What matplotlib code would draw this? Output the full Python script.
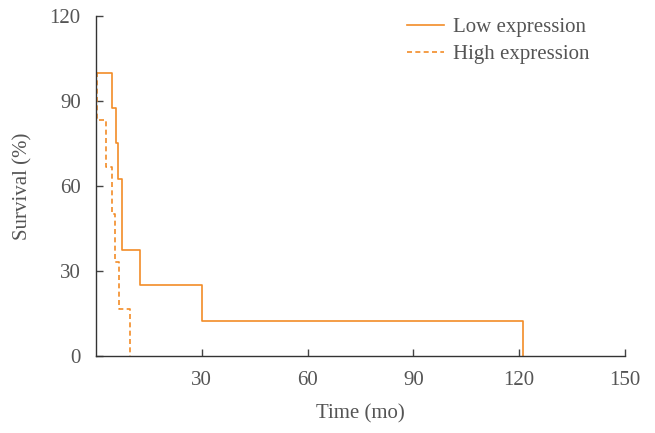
import matplotlib
matplotlib.use("Agg")
import matplotlib.pyplot as plt

# Kaplan-Meier step data (time in months, survival %)
low_time = [0, 4.5, 5.6, 6.3, 7.4, 12.5, 30, 121]
low_surv = [100, 87.5, 75, 62.5, 37.5, 25, 12.5, 0]
high_time = [0, 0.2, 2.7, 4.6, 5.3, 6.4, 9.6]
high_surv = [100, 83.3, 66.7, 50, 33.3, 16.7, 0]

x_ticks = [30, 60, 90, 120, 150]
y_ticks = [0, 30, 60, 90, 120]

plt.rcParams['font.family'] = ['Liberation Serif', 'DejaVu Serif']
color = '#F28C28'
text_color = '#555555'

fig = plt.figure(figsize=(6.55, 4.33), dpi=100)
ax = fig.add_axes([0.1466, 0.178, 0.8074, 0.785])

ax.step(low_time, low_surv, where='post', color=color, lw=1.2, label='Low expression')
ax.step(high_time, high_surv, where='post', color=color, lw=1.2, ls=(0, (3, 2)), label='High expression')

ax.set_xlim(0, 150)
ax.set_ylim(0, 120)
ax.set_xticks(x_ticks)
ax.set_yticks(y_ticks)
ax.tick_params(direction='in', length=5, width=1, colors='#444444', labelsize=15, labelcolor=text_color)
ax.tick_params(axis='x', pad=11)
ax.tick_params(axis='y', pad=11)
for s in ['top', 'right']:
    ax.spines[s].set_visible(False)
for s in ['left', 'bottom']:
    ax.spines[s].set_color('#333333')
    ax.spines[s].set_linewidth(1)

ax.set_xlabel('Time (mo)', fontsize=15, color=text_color, labelpad=10)
ax.set_ylabel('Survival (%)', fontsize=15, color=text_color, labelpad=12)

leg = ax.legend(loc='upper right', frameon=False, fontsize=15, handlelength=1.8,
                handletextpad=0.4, labelspacing=0.35, bbox_to_anchor=(0.968, 1.05))
for t in leg.get_texts():
    t.set_color(text_color)

fig.savefig('out.png', dpi=100)
